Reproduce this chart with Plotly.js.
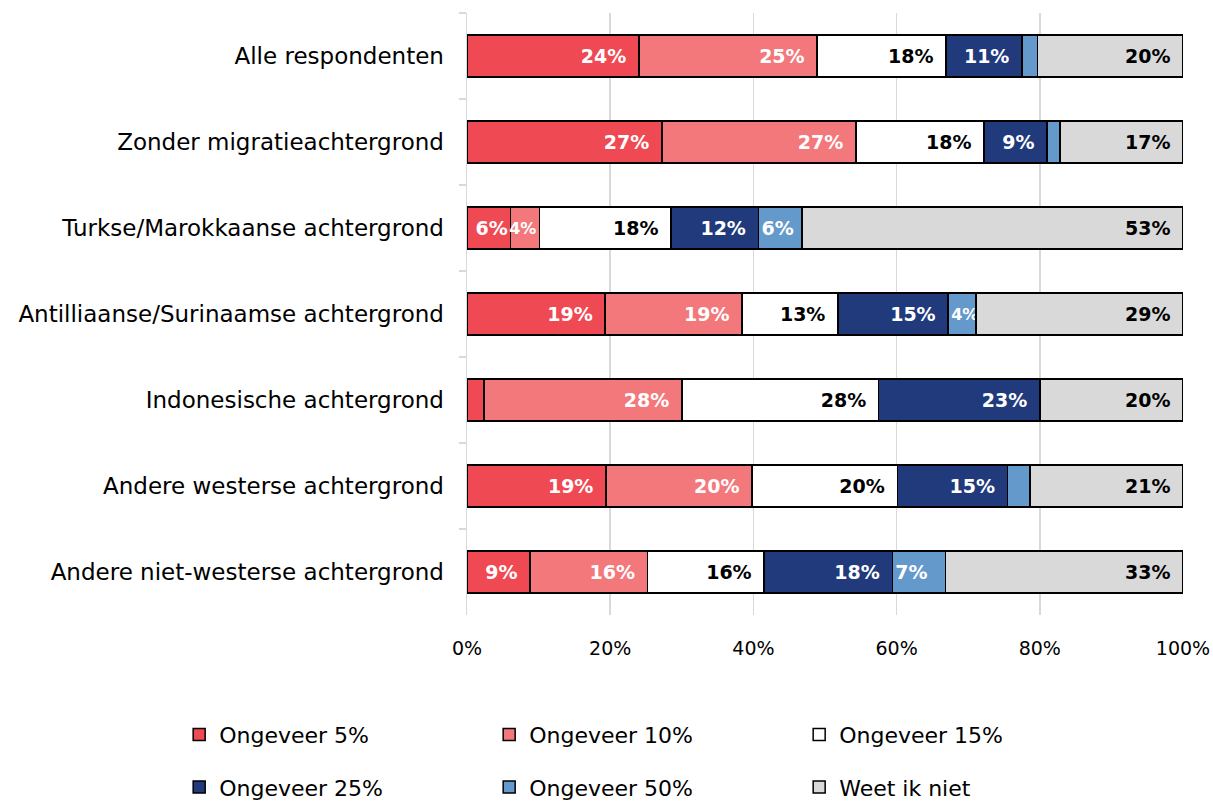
<!DOCTYPE html>
<html>
<head>
<meta charset="utf-8">
<script src="https://cdn.plot.ly/plotly-3.0.1.min.js"></script>
<style>html,body{margin:0;padding:0;background:#fff}#chart{width:1213px;height:803px}</style>
</head>
<body>
<div id="chart"></div>
<script>
const categories = [
  "Alle respondenten",
  "Zonder migratieachtergrond",
  "Turkse/Marokkaanse achtergrond",
  "Antilliaanse/Surinaamse achtergrond",
  "Indonesische achtergrond",
  "Andere westerse achtergrond",
  "Andere niet-westerse achtergrond"
];
const seriesNames = ["Ongeveer 5%", "Ongeveer 10%", "Ongeveer 15%", "Ongeveer 25%", "Ongeveer 50%", "Weet ik niet"];
const ongeveer5  = [24, 27.2, 6.1, 19.3, 2.4, 19.4, 8.8];
const ongeveer10 = [24.9, 27.1, 4.0, 19.1, 27.6, 20.4, 16.4];
const ongeveer15 = [18.0, 17.9, 18.4, 13.4, 27.5, 20.3, 16.3];
const ongeveer25 = [10.6, 8.8, 12.2, 15.4, 22.5, 15.4, 17.9];
const ongeveer50 = [2.2, 1.8, 6.1, 3.9, 0, 3.1, 7.4];
const weetNiet   = [20.3, 17.2, 53.2, 28.9, 20.0, 21.4, 33.2];
const xTicks = [0, 20, 40, 60, 80, 100];

const seriesValues = [ongeveer5, ongeveer10, ongeveer15, ongeveer25, ongeveer50, weetNiet];
const colors = ["#EF4953", "#F3787C", "#FFFFFF", "#203A7C", "#6499CC", "#D9D9D9"];
const textColors = ["#FFFFFF", "#FFFFFF", "#000000", "#FFFFFF", "#FFFFFF", "#000000"];
const FONT = "DejaVu Sans";

const traces = seriesValues.map((vals, i) => ({
  type: "bar",
  orientation: "h",
  name: seriesNames[i],
  y: categories,
  x: vals.map(v => v === 0 ? null : v),
  width: 0.49,
  marker: {color: colors[i], line: {color: "#000000", width: 1.5}},
  texttemplate: vals.map(v => v >= 3.5 ? (v < 8 ? "%{x:.0f}%" : "%{x:.0f}%\u2002") : ""),
  textposition: "inside",
  insidetextanchor: i === 4 ? "start" : "end",
  textangle: 0,
  constraintext: "none",
  cliponaxis: false,
  textfont: {family: FONT, size: vals.map(v => v < 5 ? 16 : 19), color: textColors[i], weight: "bold"},
  hoverinfo: "name+x",
  legend: i < 3 ? "legend" : "legend2"
}));

const legendCommon = {
  orientation: "h",
  xref: "paper", yref: "paper",
  xanchor: "left", yanchor: "middle",
  font: {family: FONT, size: 22, color: "#000000"},
  entrywidth: 265,
  entrywidthmode: "pixels",
  itemwidth: 30,
  traceorder: "normal",
  bgcolor: "rgba(0,0,0,0)"
};

const layout = {
  width: 1213, height: 803,
  margin: {l: 467, r: 30, t: 13, b: 188, autoexpand: false},
  paper_bgcolor: "#ffffff",
  plot_bgcolor: "#ffffff",
  barmode: "stack",
  bargap: 0.51,
  font: {family: FONT, color: "#000000"},
  xaxis: {
    range: [0, 100],
    tickvals: xTicks,
    ticktext: xTicks.map(v => v + "%"),
    showgrid: true,
    gridcolor: "#D9D9D9",
    gridwidth: 1.5,
    zeroline: false,
    showline: false,
    ticks: "",
    ticklabelstandoff: 20,
    tickfont: {family: FONT, size: 19, color: "#000000"},
    fixedrange: true
  },
  yaxis: {
    type: "category",
    categoryorder: "array",
    categoryarray: categories,
    autorange: "reversed",
    showline: true,
    linecolor: "#D9D9D9",
    linewidth: 1.5,
    ticks: "outside",
    tickson: "boundaries",
    ticklen: 7,
    tickcolor: "#D9D9D9",
    tickwidth: 1.5,
    showgrid: false,
    ticklabelstandoff: 17,
    tickfont: {family: FONT, size: 23, color: "#000000"},
    fixedrange: true
  },
  legend: Object.assign({}, legendCommon, {x: -0.402, y: -0.199}),
  legend2: Object.assign({}, legendCommon, {x: -0.402, y: -0.286}),
  showlegend: true
};

Plotly.newPlot("chart", traces, layout, {displayModeBar: false, staticPlot: true});
</script>
</body>
</html>
